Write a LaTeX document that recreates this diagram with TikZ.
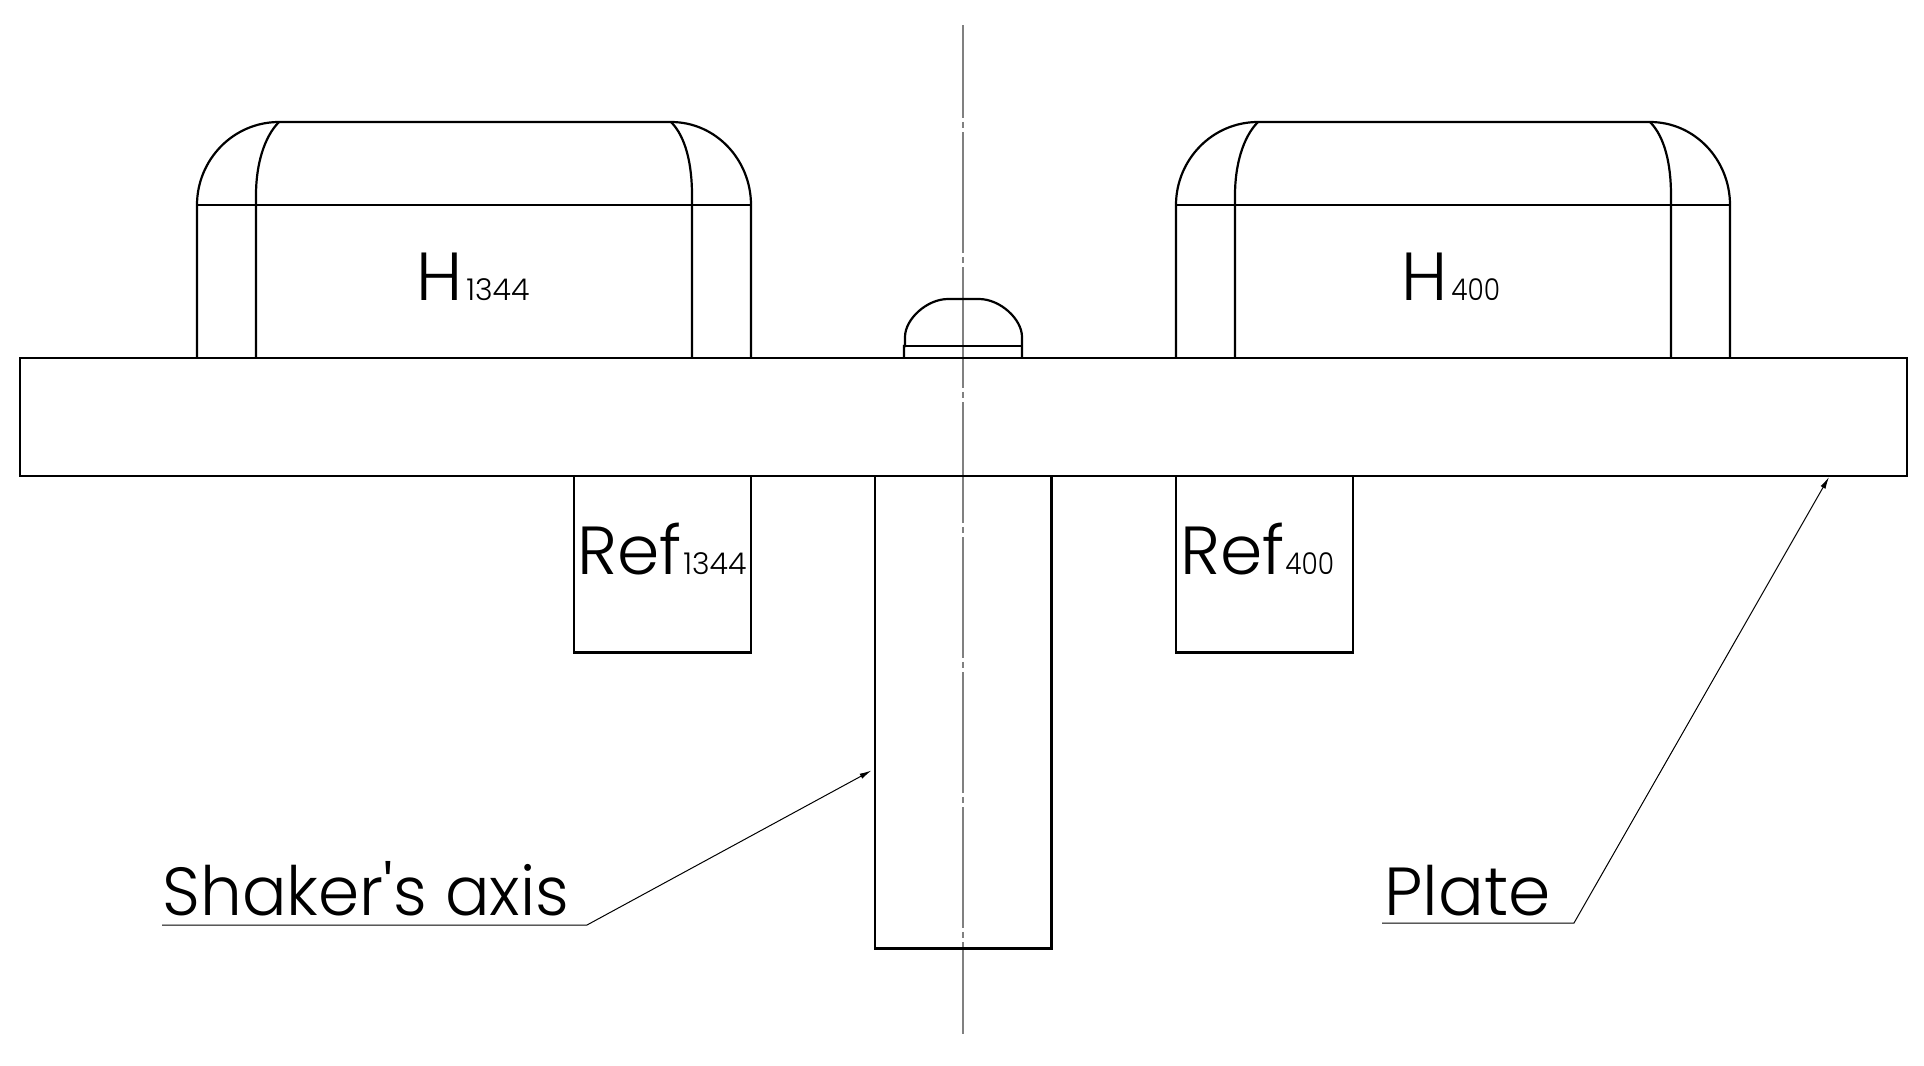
\documentclass[tikz,border=0pt]{standalone}
\usepackage{fontspec}
\setmainfont{Poppins Light}
\newfontfamily\narrowfont[FakeStretch=0.972]{Poppins Light}
\newfontfamily\subnarrow[FakeStretch=0.88]{Poppins Light}
\usetikzlibrary{arrows.meta}
\tikzset{
  part/.style={line width=1.1pt,black},
  leader/.style={line width=0.5pt,black},
  axisline/.style={line width=0.7pt,gray},
  lbl/.style={inner sep=0pt,anchor=base west,font=\fontsize{34}{36}\selectfont},
  lbln/.style={inner sep=0pt,anchor=base west,font=\narrowfont\fontsize{34}{36}\selectfont},
  subl/.style={font=\fontsize{15}{16}\selectfont},
  subn/.style={inner sep=0pt,anchor=base west,font=\subnarrow\fontsize{15}{16}\selectfont}
}
\begin{document}
\begin{tikzpicture}[x=0.5pt,y=-0.5pt]
\useasboundingbox (0,0) rectangle (1924,1066);
\draw[axisline,dash pattern=on 60.15pt off 2.1pt on 3.15pt off 2.1pt,dash phase=13.8pt] (963,25) -- (963,1034);
\draw[part] (20,358) rectangle (1907,476);
\foreach \o in {0,979}{
  \draw[part] (197+\o,358) -- (197+\o,205) .. controls (197+\o,160) and (233+\o,122) .. (279+\o,122) -- (671+\o,122) .. controls (716+\o,122) and (751+\o,160) .. (751+\o,205) -- (751+\o,358);
  \draw[part] (197+\o,205) -- (751+\o,205);
  \draw[part] (256+\o,358) -- (256+\o,195) .. controls (256+\o,165) and (264+\o,137) .. (279+\o,122);
  \draw[part] (692+\o,358) -- (692+\o,195) .. controls (692+\o,165) and (686+\o,137) .. (671+\o,122);
}
\draw[part] (904,358) -- (904,346) -- (905,346) -- (905,337) .. controls (905,319) and (927,299) .. (948,299) -- (979,299) .. controls (1000,299) and (1022,319) .. (1022,337) -- (1022,358);
\draw[part] (904,346) -- (1022,346);
\draw[part] (574,476) rectangle (751,652.5);
\draw[part] (1176,476) rectangle (1353,652.5);
\draw[part] (875,476) rectangle (1051.5,948.5);
\node[lbl] (h1) at (416,300) {H};
\node[lbl,subl] (h1s) at (466,300) {1344};
\node[lbl] (h2) at (1401,300) {H};
\node[subn] (h2s) at (1451,300) {400};
\node[lbl] (r1) at (577,574) {Ref};
\node[lbl,subl] (r1s) at (683,574) {1344};
\node[lbl] (r2) at (1180,574) {Ref};
\node[subn] (r2s) at (1285,574) {400};
\node[lbln] (sa) at (162,915) {Shaker\textquotesingle s axis};
\node[lbl] (pl) at (1384,915) {Plate};
\coordinate (a1) at (162,925); \coordinate (a2) at (587,925); \coordinate (a3) at (871.5,770.5);
\coordinate (b1) at (1382,923); \coordinate (b2) at (1574,923); \coordinate (b3) at (1829,477);
\draw[leader,-{Latex[length=6pt,width=2.8pt]}] (a1) -- (a2) -- (a3);
\draw[leader,-{Latex[length=6pt,width=2.8pt]}] (b1) -- (b2) -- (b3);
\end{tikzpicture}
\end{document}
